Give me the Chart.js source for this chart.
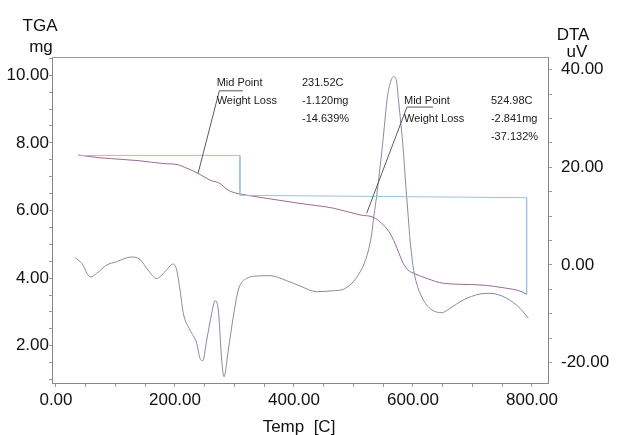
<!DOCTYPE html>
<html><head><meta charset="utf-8">
<script src="https://cdn.jsdelivr.net/npm/chart.js@4"></script>
<style>html,body{margin:0;padding:0;background:#fff;}canvas{display:block;}</style>
</head><body>
<canvas id="c" width="617" height="435"></canvas>
<script>
// ---- data ----
const tgaTemp = [37.5,73.9,112.6,141.2,179.8,203.4,220.2,238.7,258.8,275.6,286.9,295.8,309.2,354.1,410.1,466.1,510.9,533.3,547.4,561.3,569.7,583.7,591.6,600.5,625.2,650.9,712.6,757.5,779.8,791];
const tgaMass = [7.64,7.56,7.51,7.47,7.39,7.36,7.25,7.10,6.90,6.80,6.63,6.55,6.49,6.36,6.21,6.07,5.87,5.80,5.62,5.33,5.03,4.44,4.24,4.15,3.98,3.85,3.80,3.70,3.62,3.52];

const dtaTemp = [31.9,43.2,58,68.4,85.2,102,127.2,141.2,154.6,169.2,183.2,197.1,202.9,208.4,214,225.2,236.5,242,246.6,253.3,261.7,267.2,272.8,278.5,282.4,289.6,298,306.4,320.5,339.5,359.7,387.7,410,438,466,482.9,499.7,511,517.6,524.4,530.3,534.5,538.7,543.7,547.9,552.1,556.3,561.3,567,572.3,575.6,579.8,583.7,586.6,589.4,592.4,595,597.8,600.5,603.4,608.4,617.3,625.2,634.1,648.2,662.2,684.5,712.6,729.4,757.5,779.8,793.8];
const dtaSignal = [1.52,0.33,-2.48,-1.72,-0.02,0.66,1.62,1.11,-1.05,-2.79,-1.39,0.18,-1.05,-5.14,-9.92,-13.34,-16.07,-19.14,-19.63,-15.39,-9.92,-7.34,-9.24,-19.49,-22.91,-17.44,-10.61,-5.14,-2.75,-2.27,-2.21,-3.24,-4.32,-5.49,-5.29,-5.0,-3.44,-1.45,0.18,2.64,6.13,10.23,13.91,19.04,23.55,28.67,33.79,37.07,38.57,37.68,33.79,28.67,23.55,18.42,13.98,9.20,5.10,2.03,-0.64,-2.48,-4.73,-7.19,-8.52,-9.39,-9.80,-8.89,-7.19,-5.96,-5.82,-6.84,-8.89,-10.94];

const stepTemp = [37.5,309.2,309.2,791,791];
const stepMass = [7.63,7.63,6.45,6.38,3.52];

const lead1Temp = [238.8,274.5,314.3];
const lead1Mass = [7.10,9.54,9.54];
const lead2Temp = [522.2,589.9,633.6];
const lead2Mass = [5.92,9.06,9.06];

const xTickLabels = [0,200,400,600,800];
const tgaTickLabels = [2,4,6,8,10];
const dtaTickLabels = [-20,0,20,40];

const mid1Labels = ['Mid Point','Weight Loss'];
const mid1Values = ['231.52C','-1.120mg','-14.639%'];
const mid2Labels = ['Mid Point','Weight Loss'];
const mid2Values = ['524.98C','-2.841mg','-37.132%'];

// ---- helpers ----
const pairs = (xs, ys) => xs.map((x, i) => ({x: x, y: ys[i]}));
const range = (a, b, s) => { const r = []; for (let i = 0; a + i * s <= b + 1e-9; i++) r.push(+(a + i * s).toFixed(4)); return r; };
const xAll = range(0, 800, 50);
const tgaAll = range(1, 10.5, 0.5);
const dtaAll = range(-20, 40, 5);
const FONT = 'Liberation Sans, Arial, sans-serif';

const lineDs = (data, axis, color, extra) => Object.assign({
  data: data, yAxisID: axis, borderColor: color, borderWidth: 1, pointRadius: 0,
  fill: false, tension: 0
}, extra || {});

const textPlugin = {
  id: 'texts',
  afterDraw(chart) {
    const ctx = chart.ctx, a = chart.chartArea;
    const sx = chart.scales.x, sy = chart.scales.yL;
    ctx.save();
    // top frame line
    ctx.strokeStyle = '#999'; ctx.lineWidth = 1;
    ctx.beginPath(); ctx.moveTo(a.left, a.top + 0.5); ctx.lineTo(a.right, a.top + 0.5); ctx.stroke();
    // annotation blocks
    ctx.fillStyle = '#1a1a1a'; ctx.textBaseline = 'middle'; ctx.textAlign = 'left';
    ctx.font = '11px ' + FONT;
    const block = (labels, values, tLab, tVal, mTop) => {
      const x1 = sx.getPixelForValue(tLab), x2 = sx.getPixelForValue(tVal);
      const y0 = sy.getPixelForValue(mTop);
      labels.forEach((s, i) => ctx.fillText(s, x1, y0 + i * 18));
      values.forEach((s, i) => ctx.fillText(s, x2, y0 + i * 18));
    };
    block(mid1Labels, mid1Values, 270, 413.4, 9.76);
    block(mid2Labels, mid2Values, 584.9, 731, 9.23);
    // axis titles
    ctx.font = '17px ' + FONT; ctx.textAlign = 'center'; ctx.fillStyle = '#111';
    ctx.fillText('TGA', 40, 26);
    ctx.fillText('mg', 41, 47);
    ctx.fillText('DTA', 573, 35);
    ctx.fillText('uV', 577, 52);
    ctx.fillText('Temp  [C]', 299, 427);
    ctx.restore();
  }
};

const tickFont = {family: FONT, size: 17};
const gridOpt = {drawOnChartArea: false, drawTicks: true, tickLength: 4, color: '#9a9a9a'};

new Chart(document.getElementById('c'), {
  type: 'line',
  data: {
    datasets: [
      lineDs(pairs(lead1Temp, lead1Mass), 'yL', '#5a5a5a'),
      lineDs(pairs(lead2Temp, lead2Mass), 'yL', '#5a5a5a'),
      lineDs(pairs(stepTemp, stepMass), 'yL', '#9cc2dc'),
      lineDs(pairs(tgaTemp, tgaMass), 'yL', '#9a6a92', {cubicInterpolationMode: 'monotone'}),
      lineDs(pairs(dtaTemp, dtaSignal), 'yR', '#8888a8', {cubicInterpolationMode: 'monotone'})
    ]
  },
  options: {
    responsive: false, animation: false,
    layout: {padding: {top: 57, left: 0, right: 0, bottom: 0}},
    plugins: {legend: {display: false}, tooltip: {enabled: false}},
    scales: {
      x: {
        type: 'linear', position: 'bottom', min: -6.7, max: 826.9,
        afterFit(s) { s.height = 52; },
        afterBuildTicks(s) { s.ticks = xAll.map(v => ({value: v})); },
        ticks: {autoSkip: false, maxRotation: 0, padding: 3, color: '#111', font: tickFont,
          callback: v => xTickLabels.includes(v) ? v.toFixed(2) : ''},
        grid: gridOpt, border: {display: true, color: '#888'}
      },
      yL: {
        type: 'linear', position: 'left', min: 0.90, max: 10.54,
        afterFit(s) { s.width = 52; },
        afterBuildTicks(s) { s.ticks = tgaAll.map(v => ({value: v})); },
        ticks: {autoSkip: false, padding: 0, color: '#111', font: tickFont,
          callback: v => tgaTickLabels.includes(v) ? v.toFixed(2) : ''},
        grid: Object.assign({}, gridOpt, {tickLength: 3}), border: {display: true, color: '#888'}
      },
      yR: {
        type: 'linear', position: 'right', min: -24.2, max: 42.6,
        afterFit(s) { s.width = 69; },
        afterBuildTicks(s) { s.ticks = dtaAll.map(v => ({value: v})); },
        ticks: {autoSkip: false, padding: 9, color: '#111', font: tickFont,
          callback: v => dtaTickLabels.includes(v) ? v.toFixed(2) : ''},
        grid: gridOpt, border: {display: true, color: '#888'}
      }
    }
  },
  plugins: [textPlugin]
});
</script>
</body></html>
